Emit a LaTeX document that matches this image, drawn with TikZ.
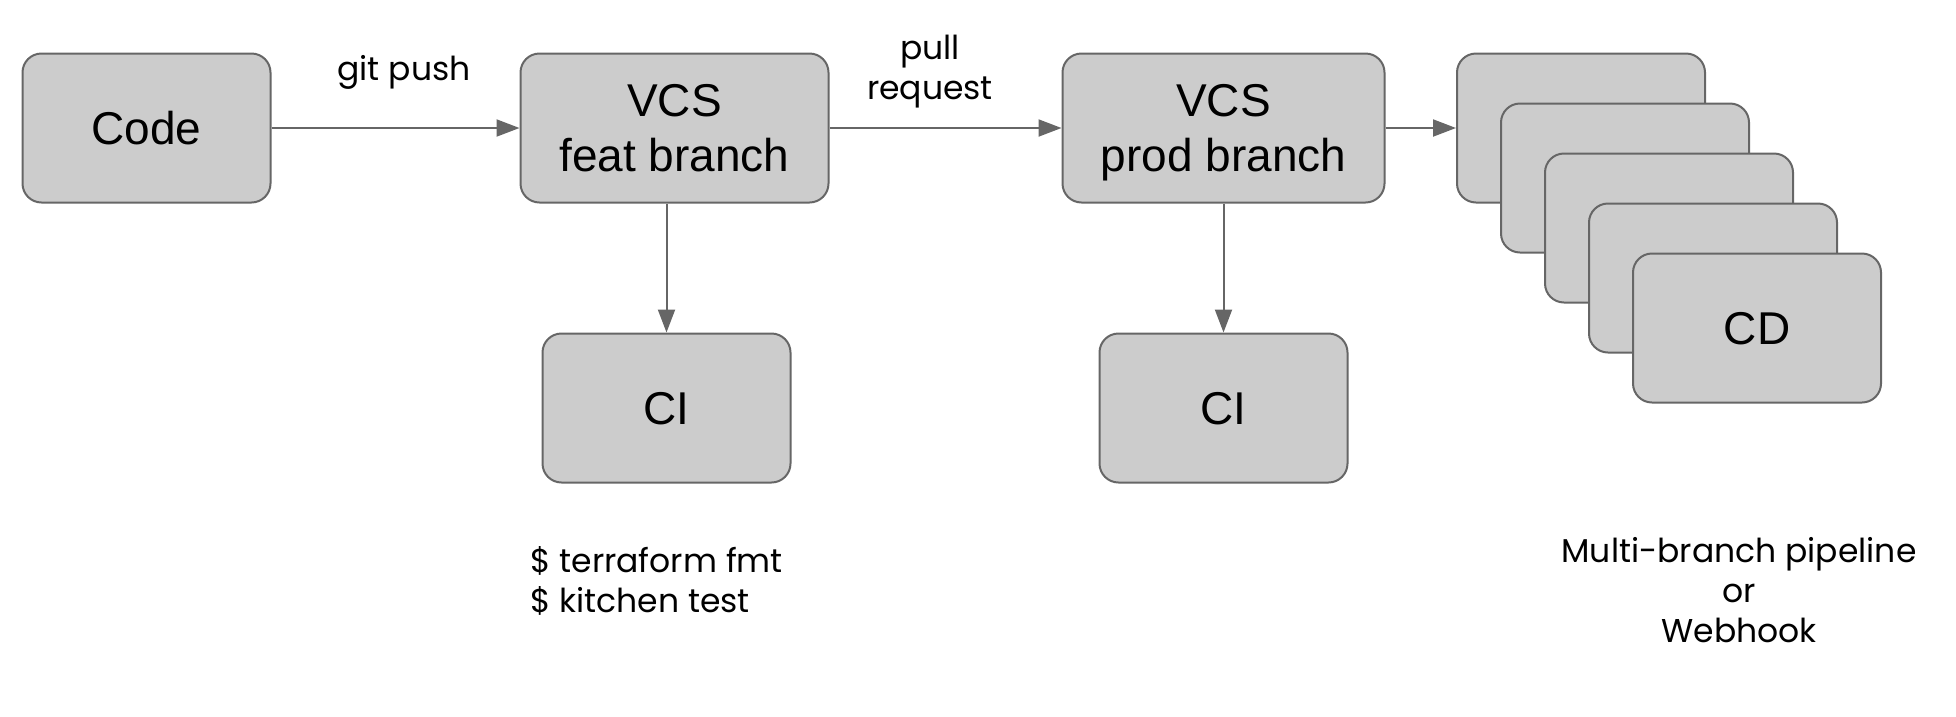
\documentclass[tikz,border=0pt]{standalone}
\usepackage{fontspec}
\setmainfont{Liberation Sans}
\newfontfamily\labelfont{Poppins}
\usetikzlibrary{arrows.meta}
\definecolor{boxfill}{HTML}{CCCCCC}
\definecolor{boxline}{HTML}{666666}
\begin{document}
\begin{tikzpicture}[x=1pt,y=-1pt,
  box/.style={draw=boxline, fill=boxfill, line width=2pt, rounded corners=19pt,
    minimum height=149pt, minimum width=248pt, align=center, text depth=0pt,
    font=\fontsize{46}{55}\selectfont, inner sep=0pt},
  conn/.style={draw=boxline, line width=2pt, -{Triangle[length=23pt,width=17pt]}},
  lbl/.style={font=\labelfont\fontsize{33}{40}\selectfont, align=center, inner sep=0pt}]
\useasboundingbox (0,0) rectangle (1956,716);
\node[box] (code) at (146.5,128) {Code};
\node[box, minimum width=308pt] (feat) at (674.5,128) {VCS\\feat branch};
\node[box] (ci1) at (666.5,408) {CI};
\node[box, minimum width=322pt] (prod) at (1223.5,128) {VCS\\prod branch};
\node[box] (ci2) at (1223.5,408) {CI};
\node[box] (cd1) at (1581,128) {};
\node[box] (cd2) at (1625,178) {};
\node[box] (cd3) at (1669,228) {};
\node[box] (cd4) at (1713,278) {};
\node[box] (cd5) at (1757,328) {CD};
\draw[conn] (code) -- (feat);
\draw[conn] (feat) -- (prod);
\draw[conn] (prod) -- (cd1);
\draw[conn] (ci1.north |- feat.south) -- (ci1);
\draw[conn] (prod) -- (ci2);
\node[lbl] (gitpush) at (404,72) {git push};
\node[lbl] (pullreq) at (930,72) {pull\\request};
\node[lbl, align=left, anchor=west] (tf) at (530,581) {\$ terraform fmt\\\$ kitchen test};
\node[lbl] (mb) at (1739,590) {Multi-branch pipeline\\or\\Webhook};
\end{tikzpicture}
\end{document}
